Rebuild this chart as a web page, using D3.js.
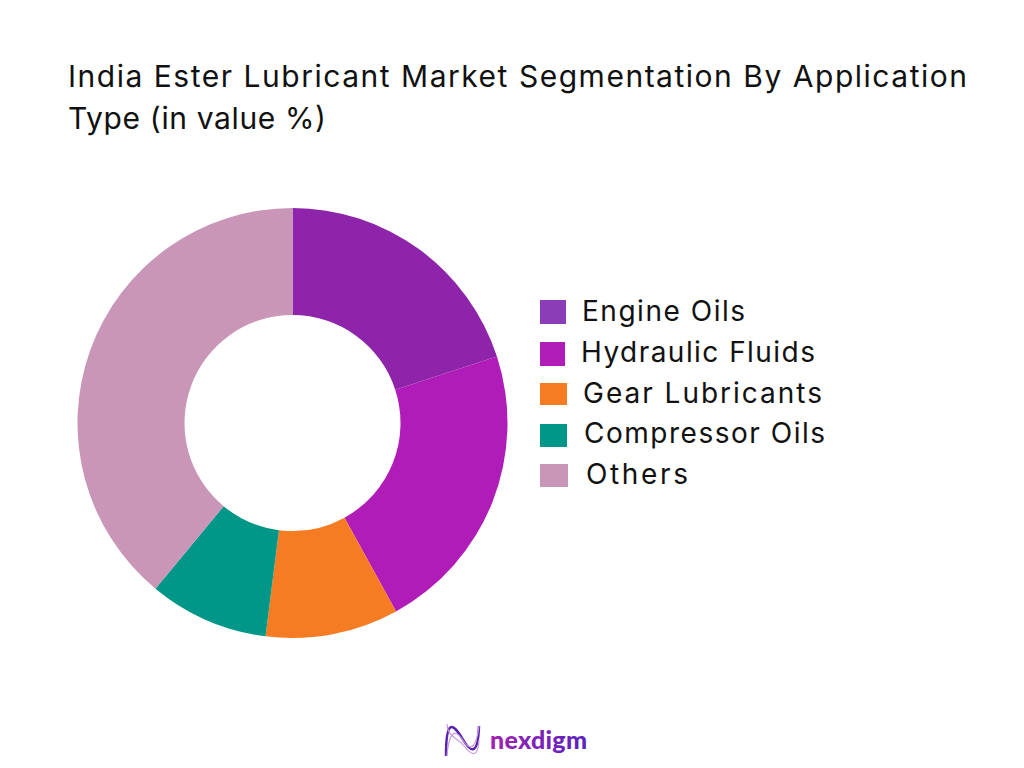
<!DOCTYPE html>
<html>
<head>
<meta charset="utf-8">
<style>
  html, body { margin: 0; background: #fff; }
  text { font-family: Inter, "Open Sans", sans-serif; fill: #111; }
</style>
<script src="https://cdn.jsdelivr.net/npm/d3@7.9.0/dist/d3.min.js"></script>
</head>
<body>
<svg id="chart" width="1024" height="768"></svg>
<script>
const categories = ['Engine Oils', 'Hydraulic Fluids', 'Gear Lubricants', 'Compressor Oils', 'Others'];
const shares = [20, 22, 10, 9, 39];
const sliceColors = ['#8e24aa', '#b01cb8', '#f57c22', '#009688', '#c996b8'];
const swatchColors = ['#8a3db6', '#b01cb8', '#f57c22', '#009688', '#c996b8'];
const titleLines = ['India Ester Lubricant Market Segmentation By Application', 'Type (in value %)'];

const svg = d3.select('#chart');

svg.append('rect').attr('width', 1024).attr('height', 768).attr('fill', '#fff');

// the original font is wider than anything installed, so fit each line to its width
const titleWidths = [899, 258];
svg.selectAll('.title')
  .data(titleLines)
  .join('text')
  .attr('class', 'title')
  .attr('x', 68)
  .attr('y', (d, i) => 87 + i * 42)
  .attr('font-size', 30)
  .attr('textLength', (d, i) => titleWidths[i])
  .attr('lengthAdjust', 'spacing')
  .text(d => d);

const sliceGenerator = d3.pie().value(d => d).sort(null);
const arcGenerator = d3.arc().innerRadius(108).outerRadius(215);

svg.append('g')
  .attr('transform', 'translate(292.5,423)')
  .selectAll('path')
  .data(sliceGenerator(shares))
  .join('path')
  .attr('d', arcGenerator)
  .attr('fill', (d, i) => sliceColors[i]);

// legend rows are slightly uneven in the original
const swatches = [[540, 300, 26, 24], [540, 342, 25, 24], [540, 383, 27, 22], [540, 424, 27, 23], [540, 464, 28, 23]];
const labelX = [582, 581, 583, 584, 586];
const labelWidths = [163, 234, 239, 241, 102];
const rowY = d3.scaleLinear().domain([0, 4]).range([321, 484]);

const legend = svg.append('g');
legend.selectAll('rect')
  .data(categories)
  .join('rect')
  .attr('x', (d, i) => swatches[i][0])
  .attr('y', (d, i) => swatches[i][1])
  .attr('width', (d, i) => swatches[i][2])
  .attr('height', (d, i) => swatches[i][3])
  .attr('fill', (d, i) => swatchColors[i]);

legend.selectAll('text')
  .data(categories)
  .join('text')
  .attr('x', (d, i) => labelX[i])
  .attr('y', (d, i) => rowY(i))
  .attr('font-size', 28)
  .attr('textLength', (d, i) => labelWidths[i])
  .attr('lengthAdjust', 'spacing')
  .text(d => d);

// logo
const defs = svg.append('defs');
const grad = defs.append('linearGradient').attr('id', 'logoGrad');
grad.append('stop').attr('offset', '0%').attr('stop-color', '#a024b0');
grad.append('stop').attr('offset', '100%').attr('stop-color', '#5a22c0');

const logo = svg.append('g').attr('fill', 'none');
logo.append('path')
  .attr('d', 'M446 756 C446 720 452 722 462 738 C470 752 478 758 479 726')
  .attr('stroke', '#5a22b0').attr('stroke-width', 2.5);
logo.append('path')
  .attr('d', 'M447 756 C449 730 456 728 464 742 C470 750 476 750 479 726')
  .attr('stroke', '#c79ad8').attr('stroke-width', 1.2);
logo.append('path')
  .attr('d', 'M447 724 C448 738 456 736 464 746 C472 756 478 758 479 740')
  .attr('stroke', '#c79ad8').attr('stroke-width', 1.2);

svg.append('text')
  .attr('x', 490)
  .attr('y', 749)
  .attr('font-size', 25)
  .attr('font-weight', 900)
  .attr('textLength', 97)
  .style('font-family', 'Lato, sans-serif')
  .style('fill', 'url(#logoGrad)')
  .text('nexdigm');
</script>
</body>
</html>
